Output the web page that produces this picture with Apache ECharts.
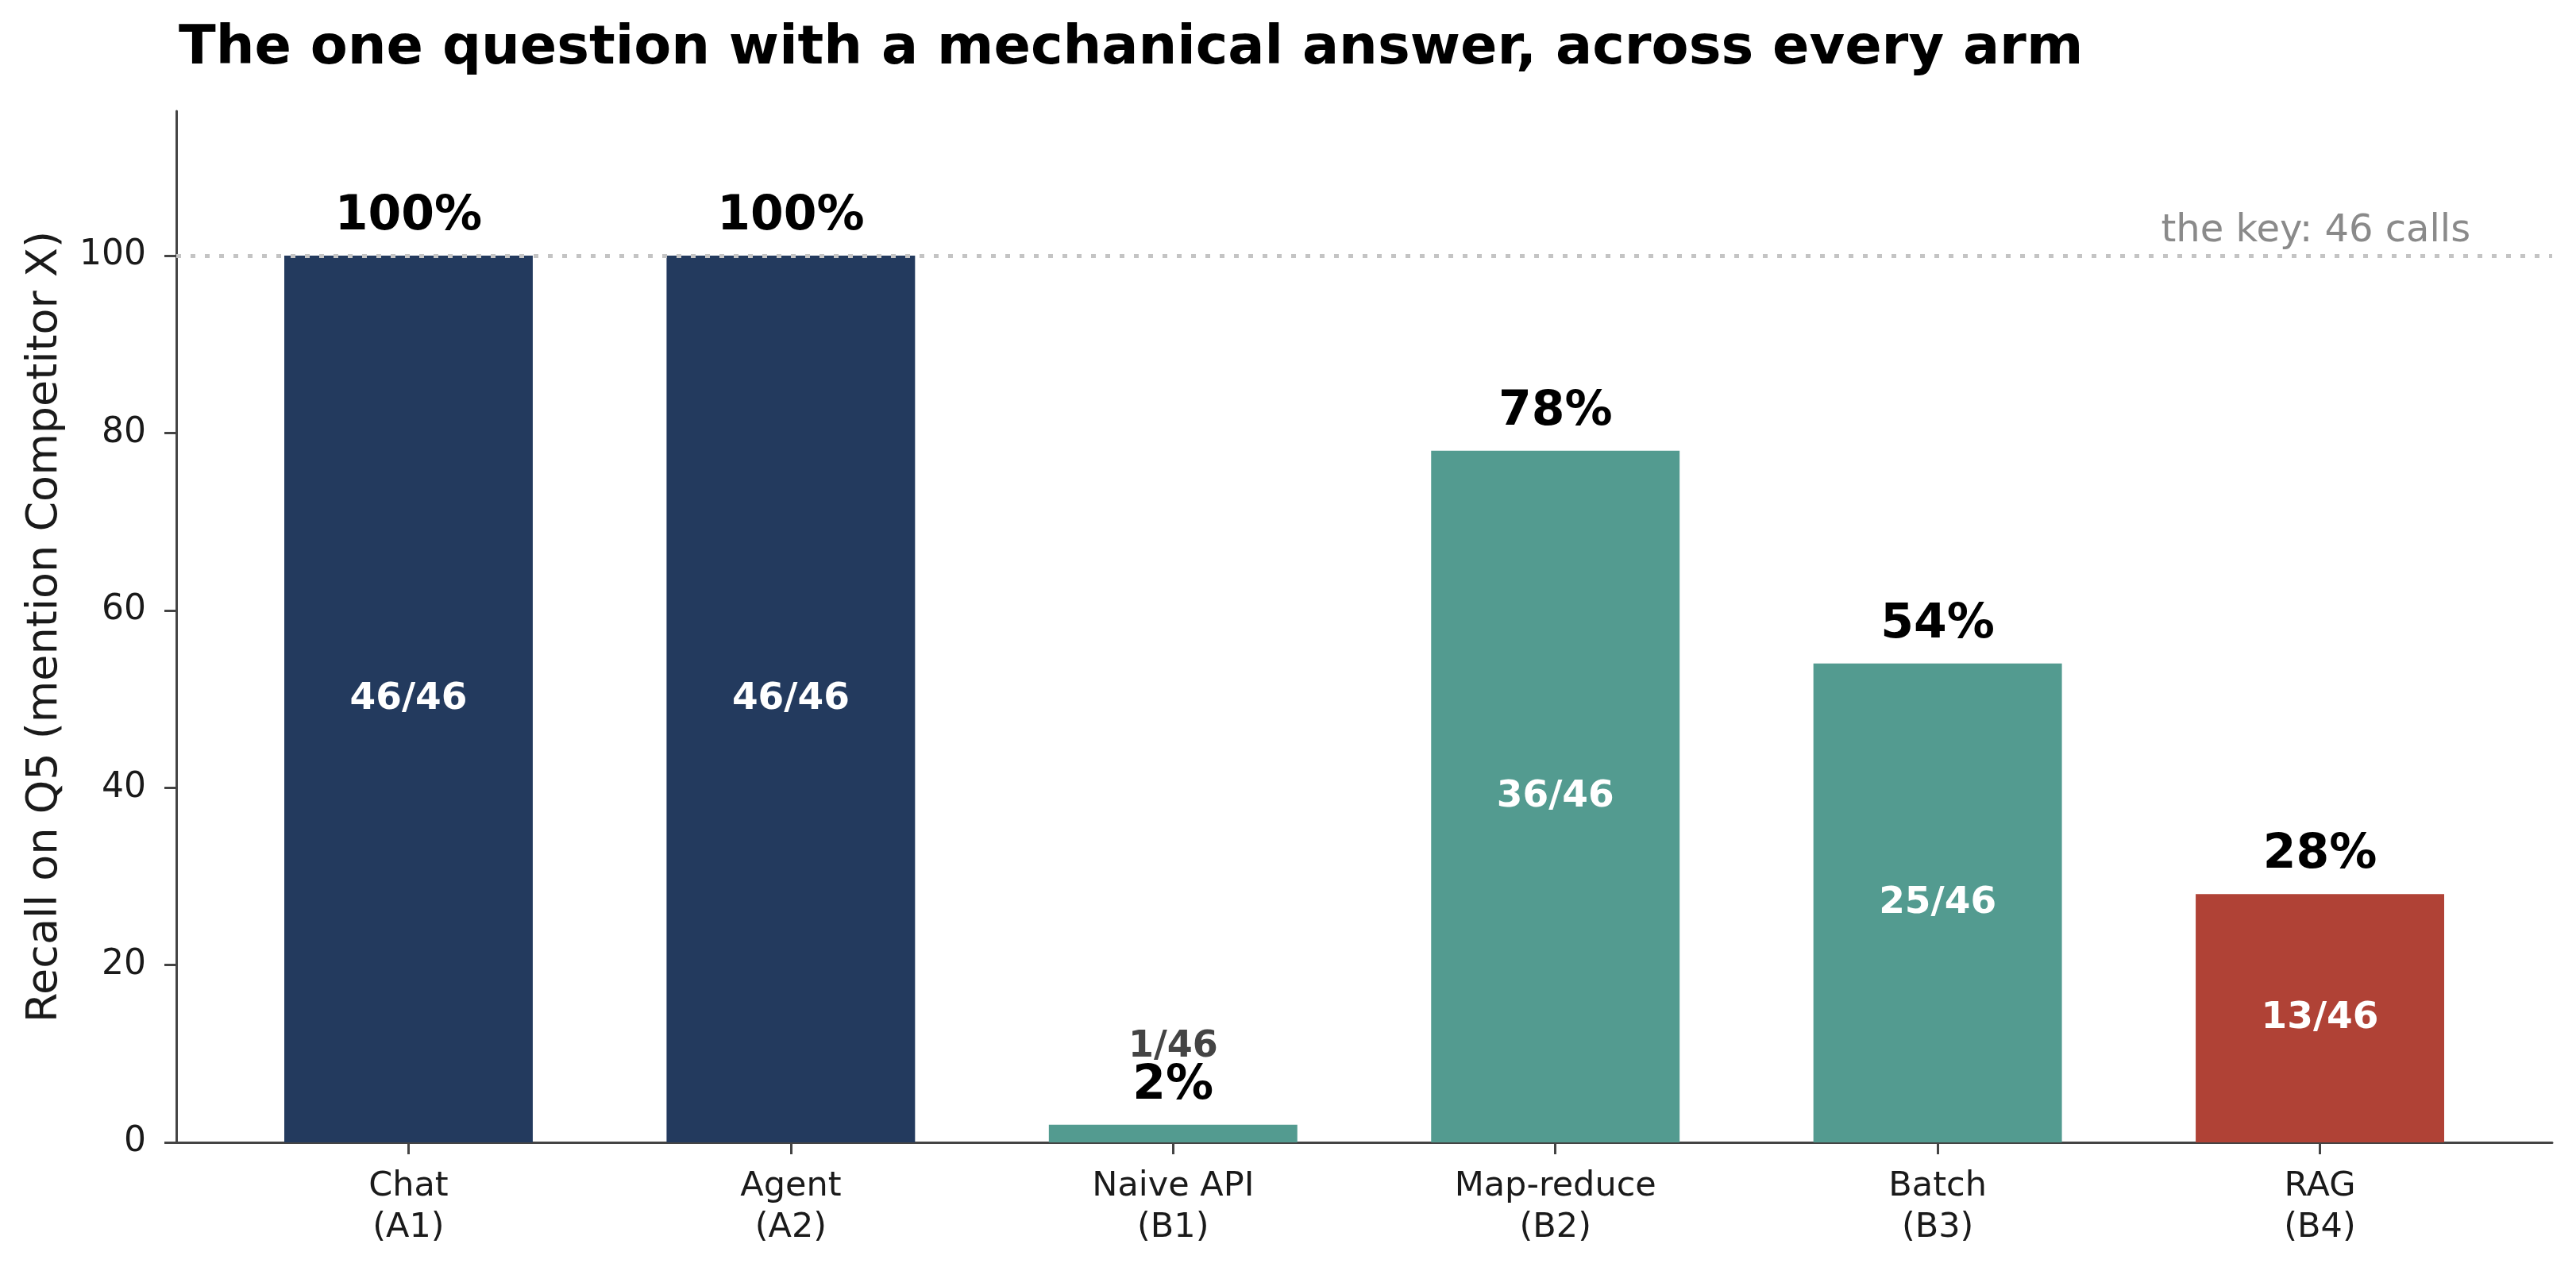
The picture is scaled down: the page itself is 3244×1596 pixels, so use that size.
<!DOCTYPE html>
<html>
<head>
<meta charset="utf-8">
<script src="https://cdn.jsdelivr.net/npm/echarts@6/dist/echarts.min.js"></script>
<style>
  html, body { margin: 0; padding: 0; background: #fff; }
  #chart { width: 3244px; height: 1596px; }
</style>
</head>
<body>
<div id="chart"></div>
<script>
// ---- data ----
const armNames = ['Chat', 'Agent', 'Naive API', 'Map-reduce', 'Batch', 'RAG'];
const armCodes = ['A1', 'A2', 'B1', 'B2', 'B3', 'B4'];
const recallPct = [100, 100, 2, 78, 54, 28];
const hits = [46, 46, 1, 36, 25, 13];
const totalCalls = 46;
const yTicks = [0, 20, 40, 60, 80, 100];
const keyLineValue = 100;
const keyLineText = 'the key: 46 calls';
const titleText = 'The one question with a mechanical answer, across every arm';
const yAxisTitle = 'Recall on Q5 (mention Competitor X)';

// ---- styles ----
const FONT = 'DejaVu Sans';
const armColor = { A: '#233a5e', B: '#539b90', RAG: '#b04236' };
function colorFor(i) {
  if (armNames[i] === 'RAG') return armColor.RAG;
  return armCodes[i][0] === 'A' ? armColor.A : armColor.B;
}
const xIdx = armNames.map((_, i) => i);

const barData = recallPct.map((v, i) => ({
  value: [i, v],
  itemStyle: { color: colorFor(i) }
}));
const topData = recallPct.map((v, i) => ({ value: [i, v] }));

const chart = echarts.init(document.getElementById('chart'), null, { renderer: 'canvas' });
chart.setOption({
  backgroundColor: '#ffffff',
  animation: false,
  textStyle: { fontFamily: FONT },
  title: {
    text: titleText,
    left: 220,
    top: 23,
    textStyle: { fontFamily: FONT, fontSize: 68.5, fontWeight: 'bold', color: '#000' }
  },
  grid: { left: 222, right: 30, top: 140, bottom: 157, containLabel: false },
  xAxis: {
    type: 'value',
    min: -0.6075,
    max: 5.6075,
    splitLine: { show: false },
    axisLine: { show: true, onZero: false, lineStyle: { color: '#444', width: 3 } },
    axisTick: { show: true, length: 15, lineStyle: { color: '#444', width: 3 }, customValues: xIdx },
    axisLabel: {
      customValues: xIdx,
      formatter: (v) => armNames[v] + '\n(' + armCodes[v] + ')',
      fontFamily: FONT, fontSize: 43, lineHeight: 52, color: '#1a1a1a', margin: 30
    }
  },
  yAxis: {
    type: 'value',
    min: 0,
    max: 116.3,
    name: yAxisTitle,
    nameLocation: 'middle',
    nameGap: 138,
    nameTextStyle: { fontFamily: FONT, fontSize: 54, color: '#1a1a1a' },
    splitLine: { show: false },
    axisLine: { show: true, onZero: false, lineStyle: { color: '#444', width: 3 } },
    axisTick: { show: true, length: 15, lineStyle: { color: '#444', width: 3 }, customValues: yTicks },
    axisLabel: {
      customValues: yTicks,
      fontFamily: FONT, fontSize: 44, color: '#1a1a1a', margin: 38
    }
  },
  series: [
    {
      type: 'bar',
      data: barData,
      barWidth: '65%',
      label: {
        show: true,
        position: 'inside',
        fontFamily: FONT,
        fontSize: 47,
        fontWeight: 'bold',
        color: '#ffffff',
        formatter: (p) => recallPct[p.dataIndex] < 10 ? '' : hits[p.dataIndex] + '/' + totalCalls
      },
      markLine: {
        silent: true,
        symbol: ['none', 'none'],
        label: { show: false },
        lineStyle: { color: '#c4c4c4', width: 5, type: [6, 12], opacity: 1 },
        data: [{ yAxis: keyLineValue }]
      },
      markPoint: {
        silent: true,
        symbol: 'circle',
        symbolSize: 1,
        itemStyle: { color: 'rgba(0,0,0,0)', opacity: 1 },
        label: {
          show: true,
          position: [0, 0],
          align: 'right',
          verticalAlign: 'bottom',
          offset: [0, -6],
          formatter: keyLineText,
          fontFamily: FONT,
          fontSize: 48,
          color: '#8a8a8a'
        },
        data: [{ coord: [5.395, keyLineValue] }]
      },
      z: 2
    },
    {
      type: 'scatter',
      data: topData,
      symbolSize: 1,
      itemStyle: { color: 'rgba(0,0,0,0)', opacity: 1 },
      silent: true,
      z: 3,
      label: {
        show: true,
        position: 'top',
        distance: 18,
        opacity: 1,
        fontFamily: FONT,
        fontSize: 60,
        lineHeight: 60,
        fontWeight: 'bold',
        color: '#000',
        formatter: (p) => {
          const i = p.dataIndex;
          const pct = recallPct[i] + '%';
          if (recallPct[i] < 10) return '{c|' + hits[i] + '/' + totalCalls + '}\n{p|' + pct + '}';
          return pct;
        },
        rich: {
          c: { fontFamily: FONT, fontSize: 46, lineHeight: 38, fontWeight: 'bold', color: '#444444' },
          p: { fontFamily: FONT, fontSize: 60, lineHeight: 60, fontWeight: 'bold', color: '#000' }
        }
      }
    }
  ]
});
</script>
</body>
</html>
